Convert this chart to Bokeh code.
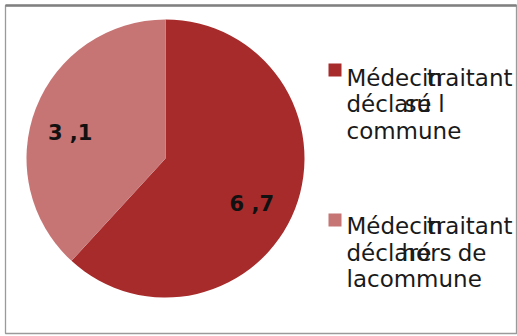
import math
from bokeh.plotting import figure
from bokeh.models import Range1d
from bokeh.core.properties import value
from bokeh.embed import file_html
from bokeh.resources import INLINE

# ---- data ----
categories = ["Médecin traitant déclaré sur la commune",
              "Médecin traitant déclaré hors de la commune"]
shares = [61.7, 38.1]            # slice sizes
value_labels = ["6 ,7", "3 ,1"]  # data labels as printed
colors = ["#a82b2b", "#c67474"]

# legend text fragments as printed (they overlap): (line, text, x offset, align)
legend_pieces = [
    [(0, "Médecin", 0, "left"), (0, "traitant", 166, "right"),
     (1, "déclaré", 0, "left"), (1, "su l", 58, "left"),
     (2, "commune", 0, "left")],
    [(0, "Médecin", 0, "left"), (0, "traitant", 166, "right"),
     (1, "déclaré", 0, "left"), (1, "hors", 55, "left"), (1, "de", 140, "right"),
     (2, "lacommune", 0, "left")],
]

W, H = 517, 336
p = figure(width=W, height=H, output_backend="svg", toolbar_location=None,
           x_range=Range1d(0, W), y_range=Range1d(0, H), min_border=0)
p.axis.visible = False
p.grid.visible = False
p.outline_line_color = None
p.background_fill_color = "white"
p.border_fill_color = "white"

# frame
p.quad(left=[5], right=[516], bottom=[H - 333], top=[H - 5],
       fill_color=None, line_color="#9a9a9a", line_width=1.3)
p.segment(x0=[5], y0=[H - 5], x1=[516], y1=[H - 5], line_color="#808080", line_width=2.5)

# pie
cx, cy, R = 165, H - 158, 139
total = sum(shares)
starts, ends, mids = [], [], []
a = math.pi / 2
for s in shares:
    span = 2 * math.pi * s / total
    starts.append(a - span)
    ends.append(a)
    mids.append(a - span / 2)
    a -= span
p.wedge(x=[cx] * len(shares), y=[cy] * len(shares), radius=R,
        start_angle=starts, end_angle=ends, fill_color=colors,
        line_color=None)

# data labels
rl = 97.5
lx = [cx + rl * math.cos(m) - 4.5 for m in mids]
ly = [cy + rl * math.sin(m) - 10 for m in mids]
p.text(x=lx, y=ly, text=value_labels, text_font=value("DejaVu Sans"),
       text_font_size="21px", text_font_style="bold", text_color="#111111",
       text_align="center", text_baseline="middle")

# legend
leg_x = 328
leg_sq_top = [63, 213]
text_x = 346
line0 = [77, 225.5]
line_gap = 26.5
for i, pieces in enumerate(legend_pieces):
    t = leg_sq_top[i]
    p.quad(left=[leg_x], right=[leg_x + 13], top=[H - t], bottom=[H - t - 13],
           fill_color=colors[i], line_color=None)
    for align in ("left", "right"):
        sel = [pc for pc in pieces if pc[3] == align]
        if not sel:
            continue
        xs = [text_x + off for (_, _, off, _) in sel]
        ys = [H - (line0[i] + ln * line_gap) for (ln, _, _, _) in sel]
        txt = [s for (_, s, _, _) in sel]
        p.text(x=xs, y=ys, text=txt, text_font=value("DejaVu Sans"),
               text_font_size="23px", text_color="#1a1a1a",
               text_align=align, text_baseline="middle")

open("out.html", "w").write(file_html(p, INLINE))
